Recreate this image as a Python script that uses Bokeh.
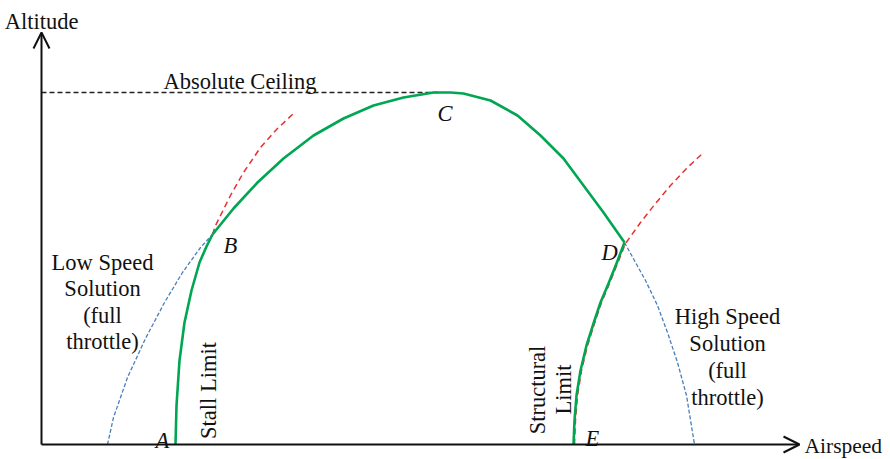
from bokeh.plotting import figure
from bokeh.models import Range1d, Arrow, OpenHead, ColumnDataSource
from bokeh.core.properties import value
from bokeh.embed import file_html
from bokeh.resources import INLINE
import math

# Flight envelope (schematic units: airspeed, altitude)
stall_speed = [134, 135, 138, 143, 150, 158, 165, 171]
stall_alt = [0, 39, 84, 122, 154, 182, 198, 210]

envelope_speed = [171, 192, 216, 242, 272, 302, 332, 362, 392, 409, 422, 449, 476, 499, 522, 542, 562, 583]
envelope_alt = [210, 236, 262, 286, 309, 326, 339, 347, 352, 352, 351, 344, 329, 309, 286, 259, 232, 202]

struct_speed = [532, 533, 535, 539, 545, 552, 559, 567, 575, 583]
struct_alt = [0, 24, 49, 74, 99, 121, 142, 161, 181, 202]

# Power-limited solutions (full throttle)
low_speed_sol_speed = [66, 72, 86, 104, 123, 141, 159, 171]
low_speed_sol_alt = [0, 27, 67, 106, 142, 172, 197, 210]

high_speed_sol_speed = [583, 604, 616, 626, 636, 645, 653]
high_speed_sol_alt = [202, 164, 139, 112, 82, 49, 0]

# Extensions of the limit curves beyond their crossing points
stall_ext_speed = [171, 174, 189, 202, 219, 236, 252]
stall_ext_alt = [210, 219, 249, 272, 297, 316, 331]

struct_ext_speed = [533, 534, 536, 540, 546, 553, 560, 568, 576, 584, 599, 614, 629, 645, 662]
struct_ext_alt = [0, 24, 49, 74, 99, 121, 142, 161, 181, 201, 222, 241, 259, 276, 292]

ceiling_speed = [0, 397]
ceiling_alt = [352, 352]

axis_speed_max = 758
axis_alt_max = 412

GREEN = "#00a651"
RED = "#e8312f"
BLUE = "#4a7ebb"
FONT = value("Liberation Serif")
FS = "22.5px"

p = figure(width=890, height=459, output_backend="svg", toolbar_location=None,
           x_range=Range1d(-41, 849), y_range=Range1d(-15, 444),
           min_border=0, outline_line_color=None)
p.axis.visible = False
p.grid.visible = False
p.background_fill_color = "white"
p.border_fill_color = "white"

# dashed construction curves (drawn first so the envelope sits on top)
p.line(ceiling_speed, ceiling_alt, line_color="#222222", line_width=1.3, line_dash="5 3")
p.line(stall_ext_speed, stall_ext_alt, line_color=RED, line_width=1.5, line_dash="6 4")
p.line(struct_ext_speed, struct_ext_alt, line_color=RED, line_width=1.5, line_dash="6 4")
p.line(low_speed_sol_speed, low_speed_sol_alt, line_color=BLUE, line_width=1.3, line_dash="4 2")
p.line(high_speed_sol_speed, high_speed_sol_alt, line_color=BLUE, line_width=1.3, line_dash="4 2")

# envelope boundary
for xs, ys in [(stall_speed, stall_alt), (envelope_speed, envelope_alt), (struct_speed, struct_alt)]:
    p.line(xs, ys, line_color=GREEN, line_width=2.6, line_join="round")

# axes with open arrow heads
p.add_layout(Arrow(end=OpenHead(size=16, line_width=2, line_color="#111111"),
                   x_start=0, y_start=0, x_end=0, y_end=axis_alt_max,
                   line_width=2, line_color="#111111"))
p.add_layout(Arrow(end=OpenHead(size=16, line_width=2, line_color="#111111"),
                   x_start=0, y_start=0, x_end=axis_speed_max, y_end=0,
                   line_width=2, line_color="#111111"))

# plain labels
plain = ColumnDataSource(dict(
    x=[0, 122, 61, 61, 61, 61, 686, 686, 686, 686],
    y=[423, 363, 182, 156, 129, 103, 128, 101, 74, 47],
    text=["Altitude", "Absolute Ceiling",
          "Low Speed", "Solution", "(full", "throttle)",
          "High Speed", "Solution", "(full", "throttle)"],
    align=["center", "left", "center", "center", "center", "center",
           "center", "center", "center", "center"],
))
p.text(x="x", y="y", text="text", text_align="align", text_baseline="alphabetic",
       text_font=FONT, text_font_size=FS, text_color="#111111", source=plain)

# horizontal axis title, just past the arrow tip, centred on the axis line
p.text(x=[763], y=[-1], text=["Airspeed"], text_align="left", text_baseline="middle",
       text_font=FONT, text_font_size="21.5px", text_color="#111111")

# rotated limit labels
rot = ColumnDataSource(dict(
    x=[167, 496, 522], y=[54, 54.5, 55],
    text=["Stall Limit", "Structural", "Limit"],
))
p.text(x="x", y="y", text="text", angle=math.pi / 2, text_align="center",
       text_baseline="alphabetic", text_font=FONT, text_font_size=FS,
       text_color="#111111", source=rot)

# point letters
pts = ColumnDataSource(dict(
    x=[114, 182, 396, 560, 544], y=[4, 199, 331, 192, 6],
    text=["A", "B", "C", "D", "E"],
))
p.text(x="x", y="y", text="text", text_align="left", text_baseline="alphabetic",
       text_font=FONT, text_font_size=FS, text_font_style="italic",
       text_color="#111111", source=pts)

open("out.html", "w").write(file_html(p, INLINE))
